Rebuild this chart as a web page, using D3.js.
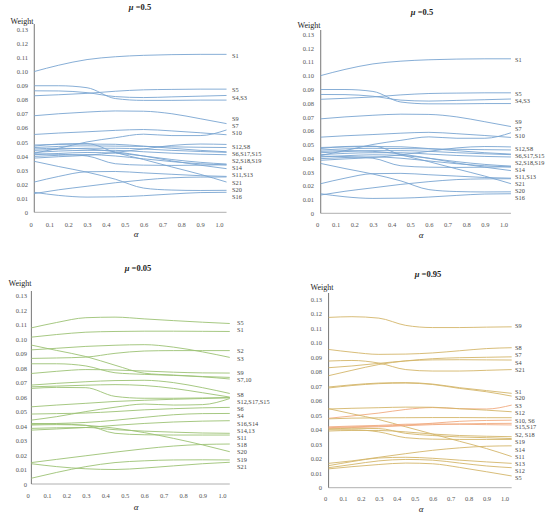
<!DOCTYPE html>
<html>
<head>
<meta charset="utf-8">
<script src="https://cdn.jsdelivr.net/npm/d3@7"></script>
<style>
  html, body { margin: 0; padding: 0; background: #ffffff; }
  svg { display: block; }
</style>
</head>
<body>
<svg id="chart" width="550" height="519"></svg>
<script>
// ---------- DATA ----------
const alphas = [0.02, 0.15, 0.3, 0.45, 0.6, 0.75, 0.9, 1.04];
const yTicks = [0, 0.01, 0.02, 0.03, 0.04, 0.05, 0.06, 0.07, 0.08, 0.09, 0.10, 0.11, 0.12, 0.13];
const xTicks = [0, 0.1, 0.2, 0.3, 0.4, 0.5, 0.6, 0.7, 0.8, 0.9, 1.0];

// mu = 0.5
const namesMu05 = ["S1","S5","S4","S3","S9","S7","S10","S12","S8","S6","S17","S15","S2","S18","S19","S14","S21","S20","S11","S13","S16"];
const valuesMu05 = [
  [0.1000, 0.1045, 0.1085, 0.1105, 0.1115, 0.1120, 0.1122, 0.1122],
  [0.0828, 0.0835, 0.0845, 0.0860, 0.0870, 0.0873, 0.0875, 0.0875],
  [0.0863, 0.0862, 0.0850, 0.0822, 0.0815, 0.0820, 0.0825, 0.0830],
  [0.0899, 0.0899, 0.0885, 0.0808, 0.0795, 0.0795, 0.0797, 0.0797],
  [0.0686, 0.0700, 0.0712, 0.0720, 0.0718, 0.0700, 0.0665, 0.0630],
  [0.0420, 0.0455, 0.0500, 0.0530, 0.0555, 0.0545, 0.0545, 0.0585],
  [0.0553, 0.0563, 0.0572, 0.0582, 0.0588, 0.0578, 0.0565, 0.0551],
  [0.0385, 0.0395, 0.0405, 0.0425, 0.0450, 0.0475, 0.0485, 0.0482],
  [0.0460, 0.0468, 0.0472, 0.0470, 0.0468, 0.0465, 0.0462, 0.0460],
  [0.0478, 0.0482, 0.0485, 0.0483, 0.0470, 0.0455, 0.0440, 0.0430],
  [0.0440, 0.0448, 0.0455, 0.0455, 0.0450, 0.0440, 0.0432, 0.0426],
  [0.0426, 0.0435, 0.0440, 0.0440, 0.0430, 0.0420, 0.0413, 0.0409],
  [0.0409, 0.0418, 0.0425, 0.0420, 0.0400, 0.0375, 0.0355, 0.0343],
  [0.0397, 0.0405, 0.0410, 0.0400, 0.0380, 0.0360, 0.0345, 0.0336],
  [0.0415, 0.0412, 0.0400, 0.0345, 0.0335, 0.0333, 0.0335, 0.0338],
  [0.0450, 0.0455, 0.0450, 0.0430, 0.0400, 0.0365, 0.0335, 0.0310],
  [0.0470, 0.0485, 0.0488, 0.0425, 0.0375, 0.0322, 0.0270, 0.0215],
  [0.0362, 0.0325, 0.0285, 0.0235, 0.0172, 0.0158, 0.0155, 0.0156],
  [0.0215, 0.0255, 0.0288, 0.0290, 0.0280, 0.0270, 0.0260, 0.0255],
  [0.0133, 0.0160, 0.0185, 0.0210, 0.0230, 0.0245, 0.0250, 0.0251],
  [0.0142, 0.0120, 0.0108, 0.0110, 0.0118, 0.0130, 0.0140, 0.0142]
];
const labelsMu05 = ["S1","S5","S4,S3","S9","S7","S10","S12,S8","S6,S17,S15","S2,S18,S19","S14","S11,S13","S21","S20","S16"];
const labelValsMu05 = [0.1112, 0.0869, 0.0814, 0.0667, 0.0617, 0.0566, 0.0466, 0.0416, 0.0364, 0.0315, 0.0265, 0.0213, 0.0163, 0.0111];

// mu = 0.05
const namesMu005 = ["S5","S1","S3","S2","S7","S10","S9","S8","S12","S17","S15","S14","S6","S4","S16","S13","S11","S20","S18","S19","S21"];
const valuesMu005 = [
  [0.1078, 0.1115, 0.1148, 0.1152, 0.1140, 0.1128, 0.1117, 0.1108],
  [0.1014, 0.1032, 0.1048, 0.1053, 0.1055, 0.1055, 0.1054, 0.1053],
  [0.0926, 0.0937, 0.0950, 0.0958, 0.0962, 0.0945, 0.0912, 0.0874],
  [0.0867, 0.0870, 0.0876, 0.0902, 0.0918, 0.0921, 0.0921, 0.0921],
  [0.0959, 0.0922, 0.0880, 0.0820, 0.0765, 0.0752, 0.0742, 0.0736],
  [0.0830, 0.0830, 0.0815, 0.0768, 0.0757, 0.0750, 0.0740, 0.0725],
  [0.0763, 0.0778, 0.0790, 0.0787, 0.0780, 0.0772, 0.0767, 0.0766],
  [0.0683, 0.0695, 0.0706, 0.0714, 0.0716, 0.0700, 0.0665, 0.0625],
  [0.0671, 0.0676, 0.0682, 0.0686, 0.0680, 0.0660, 0.0630, 0.0600],
  [0.0660, 0.0667, 0.0665, 0.0605, 0.0592, 0.0592, 0.0594, 0.0597],
  [0.0533, 0.0545, 0.0557, 0.0570, 0.0578, 0.0585, 0.0590, 0.0595],
  [0.0441, 0.0465, 0.0500, 0.0530, 0.0552, 0.0545, 0.0548, 0.0590],
  [0.0483, 0.0486, 0.0490, 0.0500, 0.0512, 0.0520, 0.0526, 0.0529],
  [0.0412, 0.0418, 0.0425, 0.0440, 0.0460, 0.0478, 0.0486, 0.0487],
  [0.0372, 0.0380, 0.0390, 0.0405, 0.0418, 0.0428, 0.0434, 0.0437],
  [0.0384, 0.0388, 0.0390, 0.0375, 0.0365, 0.0358, 0.0352, 0.0350],
  [0.0418, 0.0415, 0.0405, 0.0350, 0.0340, 0.0338, 0.0338, 0.0338],
  [0.0407, 0.0410, 0.0405, 0.0385, 0.0355, 0.0315, 0.0270, 0.0223],
  [0.0148, 0.0170, 0.0195, 0.0220, 0.0243, 0.0262, 0.0273, 0.0276],
  [0.0040, 0.0080, 0.0120, 0.0148, 0.0160, 0.0166, 0.0167, 0.0166],
  [0.0140, 0.0120, 0.0105, 0.0100, 0.0110, 0.0125, 0.0140, 0.0150]
];
const labelsMu005 = ["S5","S1","S2","S3","S9","S7,10","S8","S12,S17,S15","S6","S4","S16,S14","S14,13","S11","S18","S20","S19","S21"];
const labelValsMu005 = [0.1115, 0.1064, 0.0917, 0.0864, 0.0768, 0.0717, 0.0619, 0.0570, 0.0519, 0.0469, 0.0419, 0.0370, 0.0319, 0.0269, 0.0219, 0.0168, 0.0117];

// mu = 0.95
const namesMu095 = ["S9","S8","S7","S4","S21","S1","S20","S3","S12","S11","S10","S6","S15","S17","S2","S18","S19","S14","S13","S12b","S5"];
const valuesMu095 = [
  [0.1175, 0.1180, 0.1170, 0.1120, 0.1105, 0.1105, 0.1108, 0.1110],
  [0.0954, 0.0935, 0.0920, 0.0922, 0.0930, 0.0945, 0.0960, 0.0966],
  [0.0773, 0.0810, 0.0850, 0.0875, 0.0890, 0.0897, 0.0900, 0.0903],
  [0.0828, 0.0840, 0.0858, 0.0875, 0.0882, 0.0883, 0.0882, 0.0881],
  [0.0874, 0.0878, 0.0860, 0.0815, 0.0805, 0.0805, 0.0810, 0.0815],
  [0.0695, 0.0710, 0.0722, 0.0725, 0.0715, 0.0690, 0.0670, 0.0651],
  [0.0688, 0.0705, 0.0718, 0.0722, 0.0712, 0.0685, 0.0662, 0.0632],
  [0.0479, 0.0495, 0.0515, 0.0540, 0.0553, 0.0545, 0.0543, 0.0570],
  [0.0543, 0.0548, 0.0552, 0.0556, 0.0555, 0.0545, 0.0535, 0.0524],
  [0.0545, 0.0510, 0.0470, 0.0420, 0.0370, 0.0320, 0.0270, 0.0215],
  [0.0475, 0.0480, 0.0482, 0.0483, 0.0484, 0.0484, 0.0483, 0.0483],
  [0.0414, 0.0420, 0.0425, 0.0432, 0.0445, 0.0458, 0.0464, 0.0466],
  [0.0409, 0.0415, 0.0420, 0.0428, 0.0435, 0.0440, 0.0443, 0.0444],
  [0.0420, 0.0425, 0.0430, 0.0438, 0.0440, 0.0438, 0.0435, 0.0433],
  [0.0405, 0.0410, 0.0408, 0.0375, 0.0360, 0.0350, 0.0345, 0.0339],
  [0.0391, 0.0395, 0.0395, 0.0385, 0.0370, 0.0360, 0.0355, 0.0352],
  [0.0400, 0.0400, 0.0385, 0.0345, 0.0335, 0.0333, 0.0333, 0.0333],
  [0.0168, 0.0185, 0.0210, 0.0235, 0.0258, 0.0275, 0.0286, 0.0289],
  [0.0152, 0.0180, 0.0205, 0.0210, 0.0203, 0.0190, 0.0178, 0.0168],
  [0.0138, 0.0160, 0.0185, 0.0195, 0.0190, 0.0170, 0.0150, 0.0138],
  [0.0130, 0.0145, 0.0160, 0.0170, 0.0165, 0.0140, 0.0110, 0.0081]
];
const orangeMu095 = ["S3","S6","S15","S17"];
const labelsMu095 = ["S9","S8","S7","S4","S21","S1","S20","S3","S12","S10, S6","S15,S17","S2, S18","S19","S14","S11","S13","S12","S5"];
const labelValsMu095 = [0.1117, 0.0966, 0.0915, 0.0865, 0.0817, 0.0665, 0.0617, 0.0566, 0.0515, 0.0465, 0.0417, 0.0366, 0.0315, 0.0265, 0.0214, 0.0166, 0.0115, 0.0065];

// ---------- LAYOUT ----------
const panels = [
  { title: "0.5", names: namesMu05, values: valuesMu05, labels: labelsMu05, labelVals: labelValsMu05,
    color: () => "#79a5d1",
    x0: 30.5, x1: 219, y0: 212.3, y13: 29.3, axisTop: 24, titleX: 140, titleY: 10,
    weightX: 22, weightY: 24, alphaX: 136, alphaY: 237, labelX: 232, tickRight: 28, xLabY: 227 },
  { title: "0.5", names: namesMu05, values: valuesMu05, labels: labelsMu05, labelVals: labelValsMu05,
    color: () => "#79a5d1",
    x0: 317, x1: 503.5, y0: 213.3, y13: 34.3, axisTop: 30, titleX: 422, titleY: 15,
    weightX: 309, weightY: 28, alphaX: 421, alphaY: 238, labelX: 515, tickRight: 314, xLabY: 227 },
  { title: "0.05", names: namesMu005, values: valuesMu005, labels: labelsMu005, labelVals: labelValsMu005,
    color: () => "#9cc274",
    x0: 27.5, x1: 222, y0: 484, y13: 295.7, axisTop: 291, titleX: 138, titleY: 271,
    weightX: 20, weightY: 286, alphaX: 136, alphaY: 510, labelX: 237, tickRight: 27, xLabY: 498 },
  { title: "0.95", names: namesMu095, values: valuesMu095, labels: labelsMu095, labelVals: labelValsMu095,
    color: n => orangeMu095.includes(n) ? "#f0aa80" : "#d4b56a",
    x0: 325, x1: 504.5, y0: 487.7, y13: 299.3, axisTop: 293, titleX: 428, titleY: 277,
    weightX: 322, weightY: 290, alphaX: 421, alphaY: 512, labelX: 515, tickRight: 322, xLabY: 501 }
];

const svg = d3.select("#chart");
const serif = "'Liberation Serif', 'DejaVu Serif', serif";

panels.forEach(p => {
  const g = svg.append("g");
  const x = d3.scaleLinear().domain([0, 1]).range([p.x0, p.x1]);
  const y = d3.scaleLinear().domain([0, 0.13]).range([p.y0, p.y13]);
  const xStart = x(alphas[0]);
  const xEnd = x(alphas[alphas.length - 1]);

  // axes lines
  g.append("line").attr("x1", xStart).attr("x2", xEnd).attr("y1", p.y0).attr("y2", p.y0)
    .attr("stroke", "#b0b0b0").attr("stroke-width", 1);
  g.append("line").attr("x1", xStart).attr("x2", xStart).attr("y1", p.y0).attr("y2", p.axisTop)
    .attr("stroke", "#777").attr("stroke-width", 1);

  // y tick labels
  const yAxis = d3.axisLeft(y).tickValues(yTicks).tickSize(0).tickPadding(0)
    .tickFormat(d => d === 0 ? "0" : d3.format(".2f")(d));
  const ya = g.append("g").attr("transform", `translate(${p.tickRight},0)`).call(yAxis);
  ya.select(".domain").remove();
  ya.selectAll("text").attr("font-family", serif).attr("font-size", 6.5).attr("fill", "#555");

  // x tick labels
  const xAxis = d3.axisBottom(x).tickValues(xTicks).tickSize(0).tickPadding(0)
    .tickFormat(d => d === 0 ? "0" : d3.format(".1f")(d));
  const xa = g.append("g").attr("transform", `translate(0,${p.xLabY - 5})`).call(xAxis);
  xa.select(".domain").remove();
  xa.selectAll("text").attr("font-family", serif).attr("font-size", 6.5).attr("fill", "#555");

  // lines
  const line = d3.line().x((d, i) => x(alphas[i])).y(d => y(d)).curve(d3.curveMonotoneX);
  g.selectAll("path.series").data(p.values).enter().append("path")
    .attr("class", "series")
    .attr("d", d => line(d))
    .attr("fill", "none")
    .attr("stroke", (d, i) => p.color(p.names[i]))
    .attr("stroke-width", 0.9);

  // series labels
  g.selectAll("text.slabel").data(p.labels).enter().append("text")
    .attr("class", "slabel")
    .attr("x", p.labelX)
    .attr("y", (d, i) => y(p.labelVals[i]))
    .attr("dy", "0.35em")
    .attr("font-family", serif).attr("font-size", 6.3).attr("fill", "#444")
    .text(d => d);

  // title
  const t = g.append("text").attr("x", p.titleX).attr("y", p.titleY).attr("text-anchor", "middle")
    .attr("font-family", serif).attr("font-size", 8.5).attr("font-weight", "bold").attr("fill", "#222");
  t.append("tspan").attr("font-style", "italic").text("μ");
  t.append("tspan").text(" =" + p.title);

  // Weight
  g.append("text").attr("x", p.weightX).attr("y", p.weightY).attr("text-anchor", "middle")
    .attr("font-family", serif).attr("font-size", 8).attr("fill", "#222").text("Weight");

  // alpha
  g.append("text").attr("x", p.alphaX).attr("y", p.alphaY).attr("text-anchor", "middle")
    .attr("font-family", serif).attr("font-size", 9).attr("font-style", "italic").attr("fill", "#222").text("α");
});
</script>
</body>
</html>
